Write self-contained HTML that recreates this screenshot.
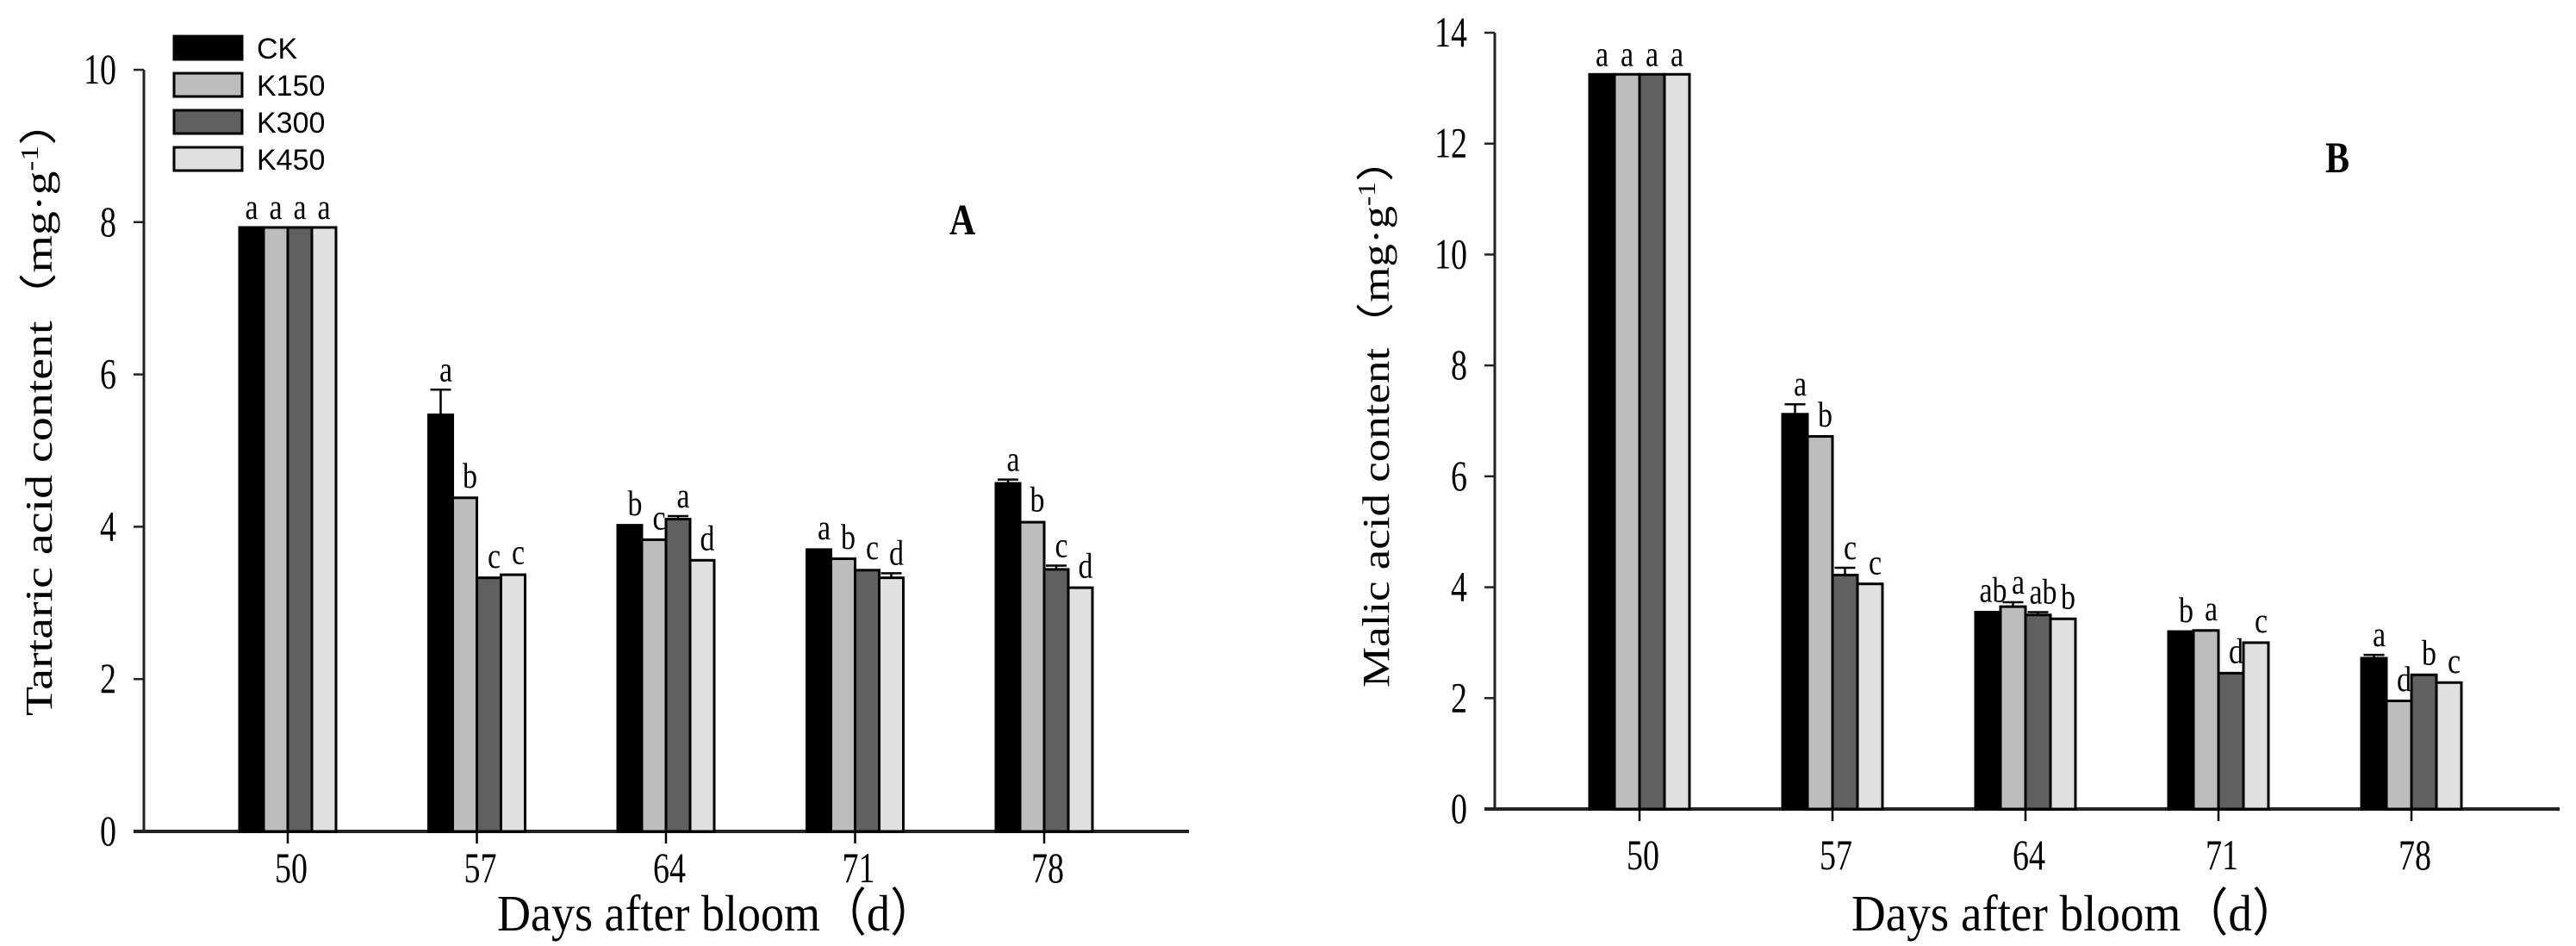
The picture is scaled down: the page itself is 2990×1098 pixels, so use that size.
<!DOCTYPE html>
<html><head><meta charset="utf-8"><style>
html,body{margin:0;padding:0;background:#fff;overflow:hidden;}
svg{display:block;}
text{font-family:"Liberation Serif",serif;fill:#000;}
.sans{font-family:"Liberation Sans",sans-serif;}
</style></head><body>
<svg id="svg" width="2990" height="1098" viewBox="0 0 2990 1098"></svg>
<script>
const categories = ["50","57","64","71","78"];
const seriesNames = ["CK","K150","K300","K450"];
const tartCK   = [7.93,5.47,4.02,3.70,4.57];
const tartK150 = [7.93,4.38,3.83,3.58,4.06];
const tartK300 = [7.93,3.33,4.10,3.43,3.44];
const tartK450 = [7.93,3.37,3.56,3.33,3.20];
const tartErrCK   = [0,0.33,0.02,0.02,0.05];
const tartErrK150 = [0,0.02,0.02,0.02,0.03];
const tartErrK300 = [0,0.02,0.04,0.03,0.05];
const tartErrK450 = [0,0.03,0.02,0.06,0.02];
const tartLetCK   = ["a","a","b","a","a"];
const tartLetK150 = ["a","b","c","b","b"];
const tartLetK300 = ["a","c","a","c","c"];
const tartLetK450 = ["a","c","d","d","d"];
const tartTicks = [0,2,4,6,8,10];
const malCK   = [13.25,7.12,3.55,3.20,2.72];
const malK150 = [13.25,6.72,3.65,3.22,1.95];
const malK300 = [13.25,4.22,3.50,2.45,2.42];
const malK450 = [13.25,4.06,3.43,3.00,2.28];
const malErrCK   = [0,0.18,0.03,0.02,0.06];
const malErrK150 = [0,0.02,0.08,0.03,0.02];
const malErrK300 = [0,0.13,0.05,0.03,0.03];
const malErrK450 = [0,0.02,0.03,0.03,0.02];
const malLetCK   = ["a","a","ab","b","a"];
const malLetK150 = ["a","b","a","a","d"];
const malLetK300 = ["a","c","ab","d","b"];
const malLetK450 = ["a","c","b","c","c"];
const malTicks = [0,2,4,6,8,10,12,14];

const NS="http://www.w3.org/2000/svg";
const svg=document.getElementById('svg');
const fills=["#000000","#bdbdbd","#606060","#e0e0e0"];
function mk(tag,attrs,parent){const e=document.createElementNS(NS,tag);for(const k in attrs)e.setAttribute(k,attrs[k]);(parent||svg).appendChild(e);return e;}
function txt(x,y,s,size,anchor,parent,sy,extra){
  const a=Object.assign({x:0,y:0,'text-anchor':anchor,'font-size':size,transform:`translate(${x},${y}) scale(1,${sy})`},extra||{});
  const t=mk('text',a,parent);t.textContent=s;return t;
}

function chart(cfg){
  const g=mk('g',{});
  
  
  const y=v=>cfg.y0-(v-cfg.vmin)/(cfg.vmax-cfg.vmin)*(cfg.y0-cfg.y1);
  const xc=i=>cfg.xFirst+i*cfg.step;
  const ya=mk('line',{x1:cfg.ax,y1:cfg.y1,x2:cfg.ax,y2:cfg.y0,stroke:'#222','stroke-width':3},g);
  
  
  const xa=mk('line',{x1:cfg.ax-12,y1:cfg.y0,x2:cfg.axEnd,y2:cfg.y0,stroke:'#222','stroke-width':4},g);
  
  
  cfg.ticks.forEach(t=>{
    mk('line',{x1:cfg.ax-12,y1:y(t),x2:cfg.ax,y2:y(t),stroke:'#222','stroke-width':2.5},g);
    const tl=txt(cfg.ax-32,y(t)+16,String(t),38,'end',g,1.3);
    
    
  });
  categories.forEach((c,i)=>{
    mk('line',{x1:xc(i),y1:cfg.y0,x2:xc(i),y2:cfg.y0+14,stroke:'#000','stroke-width':2.5},g);
    const tl=txt(xc(i)+4,cfg.tickY,c,38,'middle',g,1.3);
    
    
  });
  cfg.series.forEach((s,si)=>{
    s.forEach((v,i)=>{
      const bx=xc(i)-2*cfg.bw+si*cfg.bw;
      const r=mk('rect',{x:bx,y:y(v),width:cfg.bw,height:cfg.y0-y(v),fill:fills[si],stroke:'#000','stroke-width':3},g);
      
      
      const e=cfg.errs[si][i];
      if(e>0.03){
        const cx=bx+cfg.bw/2;
        mk('line',{x1:cx,y1:y(v),x2:cx,y2:y(v+e),stroke:'#000','stroke-width':2.5},g);
        mk('line',{x1:cx-12,y1:y(v+e),x2:cx+12,y2:y(v+e),stroke:'#000','stroke-width':2.5},g);
      }
      const lt=txt(bx+cfg.bw/2+(i>0?6:0),y(v+e)-10,cfg.lets[si][i],34,'middle',g,1.2);
      
      
    });
  });
  const xt=txt(cfg.xtX,cfg.xtY,'Days  after  bloom（d）',46,'middle',g,1.3,{textLength:cfg.xtLen,lengthAdjust:'spacingAndGlyphs'});
  
  
  const yt=mk('text',{x:0,y:0,'text-anchor':'middle','font-size':44,transform:`translate(${cfg.ytX},${cfg.ytY}) rotate(-90)`},g);
  yt.innerHTML=cfg.ytitle+'（mg·g<tspan dy="-16" font-size="28">-1</tspan><tspan dy="16">）</tspan>';
  
  
  yt.setAttribute('textLength',cfg.ytLen);
  yt.setAttribute('lengthAdjust','spacingAndGlyphs');
  const pl=txt(cfg.plX,cfg.plY,cfg.panel,42,'middle',g,1.2,{'font-weight':'bold'});
  
  
}

chart({name:'chart-a',ax:167,axEnd:1380,y0:965,y1:81,vmin:0,vmax:10,ticks:tartTicks,xFirst:334,step:219.5,bw:28,
  series:[tartCK,tartK150,tartK300,tartK450],errs:[tartErrCK,tartErrK150,tartErrK300,tartErrK450],
  lets:[tartLetCK,tartLetK150,tartLetK300,tartLetK450],tickY:1024,
  xtX:832,xtY:1080,xtLen:510,ytX:60,ytY:472,ytLen:718,ytitle:'Tartaric acid content',panel:'A',plX:1117,plY:272});
chart({name:'chart-b',ax:1735,axEnd:2971,y0:939,y1:38,vmin:0,vmax:14,ticks:malTicks,xFirst:1903,step:224,bw:29,
  series:[malCK,malK150,malK300,malK450],errs:[malErrCK,malErrK150,malErrK300,malErrK450],
  lets:[malLetCK,malLetK150,malLetK300,malLetK450],tickY:1009,
  xtX:2409,xtY:1080,xtLen:520,ytX:1612,ytY:478,ytLen:640,ytitle:'Malic acid content',panel:'B',plX:2713,plY:200});

const lg=mk('g',{});


seriesNames.forEach((n,i)=>{
  const yy=42+i*43;
  const r=mk('rect',{x:202,y:yy,width:79,height:27,fill:fills[i],stroke:'#000','stroke-width':3},lg);
  
  
  const t=txt(298,yy+26,n,34,'start',lg,1,{class:'sans'});
  
  
});
</script>
</body></html>
